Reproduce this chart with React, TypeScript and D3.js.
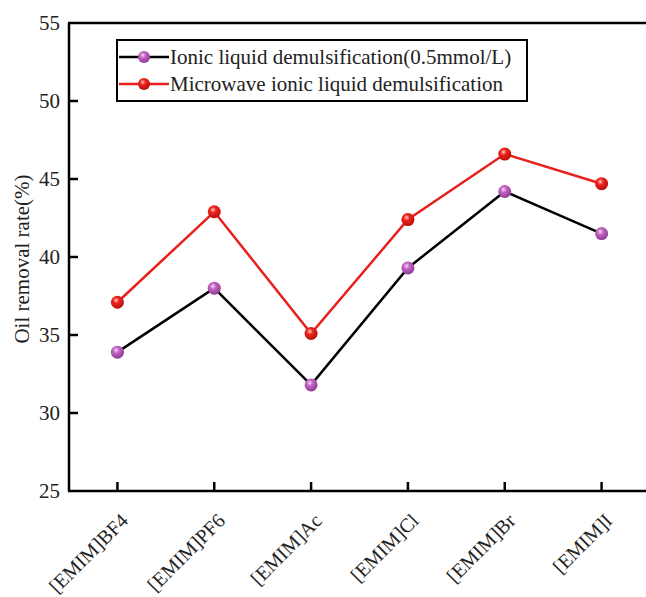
import * as d3 from 'd3';

const categories = ['[EMIM]BF4', '[EMIM]PF6', '[EMIM]Ac', '[EMIM]Cl', '[EMIM]Br', '[EMIM]I'];
const ionicValues = [33.9, 38.0, 31.8, 39.3, 44.2, 41.5];
const microwaveValues = [37.1, 42.9, 35.1, 42.4, 46.6, 44.7];
const yTicks = [25, 30, 35, 40, 45, 50, 55];

const seriesNames = [
  'Ionic liquid demulsification(0.5mmol/L)',
  'Microwave ionic liquid demulsification',
];

const W = 646;
const H = 597;
const margin = { top: 23, right: -4, bottom: 106, left: 69 };
const font = '"Liberation Serif", "Times New Roman", serif';

export default function App() {
  const innerW = W - margin.left - margin.right;
  const innerH = H - margin.top - margin.bottom;

  const x = d3.scalePoint<string>().domain(categories).range([0, innerW]).padding(0.5);
  const y = d3.scaleLinear().domain([25, 55]).range([innerH, 0]);

  const line = d3
    .line<number>()
    .x((_, i) => x(categories[i]) as number)
    .y((d) => y(d));

  const series = [
    { name: seriesNames[0], values: ionicValues, stroke: '#000', grad: 'purpleBall' },
    { name: seriesNames[1], values: microwaveValues, stroke: '#e8201c', grad: 'redBall' },
  ];

  return (
    <svg
      width={W}
      height={H}
      style={{ position: 'absolute', left: 0, top: 0, background: '#fff', fontFamily: font }}
    >
      <defs>
        <radialGradient id="purpleBall" cx="0.4" cy="0.35" r="0.65">
          <stop offset="0" stopColor="#f4dcf4" />
          <stop offset="0.35" stopColor="#c466c4" />
          <stop offset="1" stopColor="#8e3a94" />
        </radialGradient>
        <radialGradient id="redBall" cx="0.4" cy="0.35" r="0.65">
          <stop offset="0" stopColor="#ffd0cc" />
          <stop offset="0.35" stopColor="#f0241e" />
          <stop offset="1" stopColor="#b80e0c" />
        </radialGradient>
      </defs>
      <g transform={`translate(${margin.left},${margin.top})`}>
        {/* frame: left, bottom, top */}
        <line x1={0} y1={0} x2={0} y2={innerH} stroke="#000" strokeWidth={2.5} />
        <line x1={-1} y1={innerH} x2={innerW} y2={innerH} stroke="#000" strokeWidth={2.5} />
        <line x1={-1} y1={0} x2={innerW} y2={0} stroke="#000" strokeWidth={2.5} />

        {/* y ticks */}
        {yTicks.map((t) => (
          <g key={t} transform={`translate(0,${y(t)})`}>
            {t !== 25 && t !== 55 && <line x1={0} x2={9} stroke="#000" strokeWidth={2.5} />}
            <text x={-9} dy="0.35em" textAnchor="end" fontSize={21} fill="#222">
              {t}
            </text>
          </g>
        ))}

        {/* x ticks */}
        {categories.map((c) => (
          <g key={c} transform={`translate(${x(c)},${innerH})`}>
            <line y1={0} y2={-9} stroke="#000" strokeWidth={2.5} />
            <text
              transform="translate(12,31) rotate(-45)"
              textAnchor="end"
              fontSize={20}
              fill="#222"
            >
              {c}
            </text>
          </g>
        ))}

        {/* y label */}
        <text
          transform={`translate(${-40},${innerH / 2 + 2}) rotate(-90)`}
          textAnchor="middle"
          fontSize={21}
          fill="#222"
        >
          Oil removal rate(%)
        </text>

        {/* series */}
        {series.map((s) => (
          <g key={s.name}>
            <path d={line(s.values) as string} fill="none" stroke={s.stroke} strokeWidth={2.5} />
            {s.values.map((v, i) => (
              <circle
                key={i}
                cx={x(categories[i])}
                cy={y(v)}
                r={6.5}
                fill={`url(#${s.grad})`}
              />
            ))}
          </g>
        ))}

        {/* legend */}
        <g transform={`translate(${117 - margin.left},${40 - margin.top})`}>
          <rect x={0} y={0} width={410} height={61} fill="#fff" stroke="#000" strokeWidth={2} />
          {series.map((s, i) => (
            <g key={s.name} transform={`translate(0,${17 + i * 27})`}>
              <line x1={2} x2={52} stroke={s.stroke} strokeWidth={2.5} />
              <circle cx={27} cy={0} r={6} fill={`url(#${s.grad})`} />
              <text x={53} dy="0.35em" fontSize={21} fill="#222">
                {s.name}
              </text>
            </g>
          ))}
        </g>
      </g>
    </svg>
  );
}
